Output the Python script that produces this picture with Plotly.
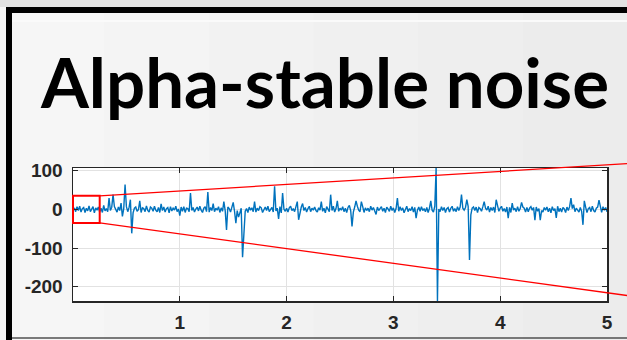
import numpy as np
import plotly.graph_objects as go

# ---- data -------------------------------------------------------------
DT = 0.0125  # sample spacing (s)

# background noise floor, one value per sample
noise_floor = [
    4, -6, 7, -3, 8, -7, 2, 5, -8, 3, -4, 9, -6, 1, 7, -9, 4, -2, 6, -7,
    3, -8, 10, -4, 2, -6, 8, -3, 5, -10, 7, 0, -7, 6, -3, 16, -5, 2, -8, 7,
    -6, 5, -2, 8, -9, 3, 6, -5, -1, 7, -8, 4, 2, -6, 9, -3, -7, 6, 3, -5,
    8, -2, -6, 5, -8, 14, -3, 6, -7, 2, 5, -9, 7, -4, 3, -2, 8, -6, 1, -16,
    6, -5, 7, -8, 3, 2, -6, 9, -3, 5, -7, 1, 6, -4, 8, -2, -8, 3, 7, -6,
    2, -7, 5, -3, 15, -6, 3, -2, 7, -8, 4, -5, 8, -3, -6, 6, 2, -7, 4, -2,
    -5, 8, -3, 6, -9, 3, 1, 7, -5, 2, -8, 6, -2, 4, -6, 18, -7, 3, -3, 7,
    4, -8, 2, 6, -3, 8, -6, -2, 5, -7, 11, -4, 3, -2, 7, -9, 6, 1, -5, 3,
    -7, 4, 8, -3, 2, -6, 7, -5, 3, -8, 6, 15, -3, 5, -7, 2, 8, -6, 3, -2,
    6, -3, -7, 4, -2, 8, -5, 3, -9, 7, 1, -6, 5, -3, 8, -7, 2, 6, -5, 3,
    -2, 7, -6, 3, -8, 5, 10, -3, 2, -7, 6, -5, 8, -2, -6, 3, 7, -8, 4, -3,
    3, -6, 8, -2, 5, -7, -13, 6, -3, 2, 7, -5, 3, -8, 6, 1, -5, 8, -3, 4,
    -8, 2, 6, -5, 7, -3, 4, -9, 3, 8, -6, 2, -3, 7, -7, 5, 17, -2, 6, -5,
    7, -3, 2, -6, 5, -8, 3, 6, -2, -7, 8, -5, 3, 1, -6, 7, -3, 5, -8, 2,
    5, -7, 3, 8, -5, 2, -6, 7, -3, 6, -9, 3, -2, 5, -7, 8, -5, -14, 3, 6,
    -3, 6, -8, 5, 2, -5, 7, -6, 3, -2, 8, -7, 5, -3, 6, -8, 2, 7, -5, 3,
    8, -5, 2, -7, 6, -3, 5, -8, 16, -2, 3, -6, 7, -5, 2, -8, 6, 3, -7, 5,
    -6, 3, 7, -2, 5, -8, 6, -5, 2, 8, -3, -7, 5, -2, 6, -6, 3, -9, 7, -3,
    2, -5, 8, -6, 3, -7, 5, 1, -8, 6, -3, 7, -5, 2, 12, -6, 3, -2, -7, 5,
    -5, 7, -3, 6, -8, 2, 5, -6, 8, -3, -7, 3, 6, -5, 2, -8, 7, -2, 5, -6,
]

# impulsive events (time in s, amplitude)
spike_t = [0.3375, 0.375, 0.4625, 0.4875, 0.5375, 0.55, 0.625,
           1.1, 1.2625, 1.4125, 1.4375, 1.5, 1.525, 1.55, 1.5875, 1.6, 1.7,
           1.8875, 1.925, 1.9625, 2.1, 2.1125, 2.325, 2.4125, 2.475,
           2.6125, 2.65, 2.7, 3.0375, 3.2125, 3.35, 3.4, 3.4125,
           3.6375, 3.6875, 3.7125, 3.85, 3.9625, 4.075, 4.2, 4.325, 4.375,
           4.525, 4.6625, 4.775, 4.7875, 4.925]
spike_v = [29, 38, -18, 64, 25, -62, 22,
           42, 45, 20, -53, 18, -36, -20, -124, -45, 20,
           60, -25, 42, 20, -27, 20, 38, 22,
           -44, 22, 20, 29, -23, 22, 107, -237,
           38, 25, -131, 20, 25, -23, 18, -28, -28,
           -22, 29, -40, 22, 24]

x_ticks = [1, 2, 3, 4, 5]
y_ticks = [-200, -100, 0, 100]
x_range = [0, 5]
y_range = [-237, 107]

# inset marker: box around the first 0.25 s and the two fan lines
zoom_box = {"x0": 0.0, "x1": 0.25, "y0": -35, "y1": 35}
fan_end_x = 5.3
fan_end_y = [120, -227]

# ---- build the signal ---------------------------------------------------
signal = np.array(noise_floor, dtype=float)
t = (np.arange(len(signal)) + 1) * DT
for ts, v in zip(spike_t, spike_v):
    signal[int(round(ts / DT)) - 1] = v

# ---- page geometry --------------------------------------------------------
W, H = 627, 340
ML, MR, MT, MB = 73, 20, 168, 39
PW, PH = W - ML - MR, H - MT - MB


def px_x(px):
    return (px - ML) / PW


def px_y(py):
    return (H - MB - py) / PH


def dx(x):
    return (x - x_range[0]) / (x_range[1] - x_range[0])


def dy(y):
    return (y - y_range[0]) / (y_range[1] - y_range[0])


fig = go.Figure()
fig.add_trace(go.Scatter(
    x=t, y=signal, mode="lines",
    line=dict(color="#0072BD", width=1.4),
    hoverinfo="skip", showlegend=False,
))

shapes = []
# slide background shading (light on the left, slightly darker to the right)
bands = ["#f6f6f6", "#f4f4f4", "#f2f2f2", "#f0f0f0", "#eeeeee", "#ececec"]
edges = np.linspace(0, W, len(bands) + 1)
for i, c in enumerate(bands):
    shapes.append(dict(type="rect", xref="paper", yref="paper", layer="below",
                       x0=px_x(edges[i]), x1=px_x(edges[i + 1]),
                       y0=px_y(H), y1=px_y(0), fillcolor=c, line_width=0))
shapes.append(dict(type="rect", xref="paper", yref="paper", layer="below",
                   x0=px_x(0), x1=px_x(W), y0=px_y(7), y1=px_y(0),
                   fillcolor="#e2e2e2", line_width=0))
shapes.append(dict(type="line", xref="paper", yref="paper", layer="below",
                   x0=px_x(12), x1=px_x(W), y0=px_y(21), y1=px_y(21),
                   line=dict(color="#fafafa", width=2)))
# white axes background on top of the shading
shapes.append(dict(type="rect", xref="paper", yref="paper", layer="below",
                   x0=0, x1=1, y0=0, y1=1, fillcolor="#ffffff", line_width=0))
# black frame
shapes.append(dict(type="line", xref="paper", yref="paper",
                   x0=px_x(6), x1=px_x(W), y0=px_y(10), y1=px_y(10),
                   line=dict(color="#000000", width=6)))
shapes.append(dict(type="line", xref="paper", yref="paper",
                   x0=px_x(9), x1=px_x(9), y0=px_y(7), y1=px_y(H),
                   line=dict(color="#000000", width=6)))
shapes.append(dict(type="line", xref="paper", yref="paper",
                   x0=px_x(12), x1=px_x(W), y0=px_y(338), y1=px_y(338),
                   line=dict(color="#505050", width=1.5)))

# zoom box and fan lines
shapes.append(dict(type="rect", xref="paper", yref="paper",
                   x0=dx(zoom_box["x0"]), x1=dx(zoom_box["x1"]),
                   y0=dy(zoom_box["y0"]), y1=dy(zoom_box["y1"]),
                   line=dict(color="#ff0000", width=2), fillcolor="rgba(0,0,0,0)"))
for yb, ye in zip([zoom_box["y1"], zoom_box["y0"]], fan_end_y):
    shapes.append(dict(type="line", xref="paper", yref="paper",
                       x0=dx(zoom_box["x1"]), y0=dy(yb),
                       x1=dx(fan_end_x), y1=dy(ye),
                       line=dict(color="#ff0000", width=1.3)))

axis_common = dict(
    showline=True, linecolor="#262626", linewidth=1.5, mirror="ticks",
    ticks="inside", ticklen=5, tickcolor="#262626", tickwidth=1,
    showgrid=True, gridcolor="#e2e2e2", gridwidth=1, zeroline=False,
    automargin=False, fixedrange=True,
    tickfont=dict(family="Liberation Sans, Arial, sans-serif", size=19,
                  color="#262626", weight="bold"),
)

fig.update_layout(
    width=W, height=H,
    margin=dict(l=ML, r=MR, t=MT, b=MB),
    paper_bgcolor="#f2f2f2", plot_bgcolor="#ffffff",
    hovermode=False, dragmode=False, showlegend=False,
    shapes=shapes,
    xaxis=dict(range=x_range, tickvals=x_ticks, ticktext=[str(v) for v in x_ticks],
               ticklabelstandoff=4, **axis_common),
    yaxis=dict(range=y_range, tickvals=y_ticks, ticktext=[str(v) for v in y_ticks],
               ticklabelstandoff=5, **axis_common),
    annotations=[dict(
        text="<b>Alpha-stable noise</b>", xref="paper", yref="paper",
        x=px_x(324), y=px_y(81), xanchor="center", yanchor="middle",
        showarrow=False,
        font=dict(family="Lato, Carlito, Calibri, sans-serif", size=69, color="#000000"),
    )],
)

fig.write_html("out.html", config={"displayModeBar": False, "staticPlot": True})
